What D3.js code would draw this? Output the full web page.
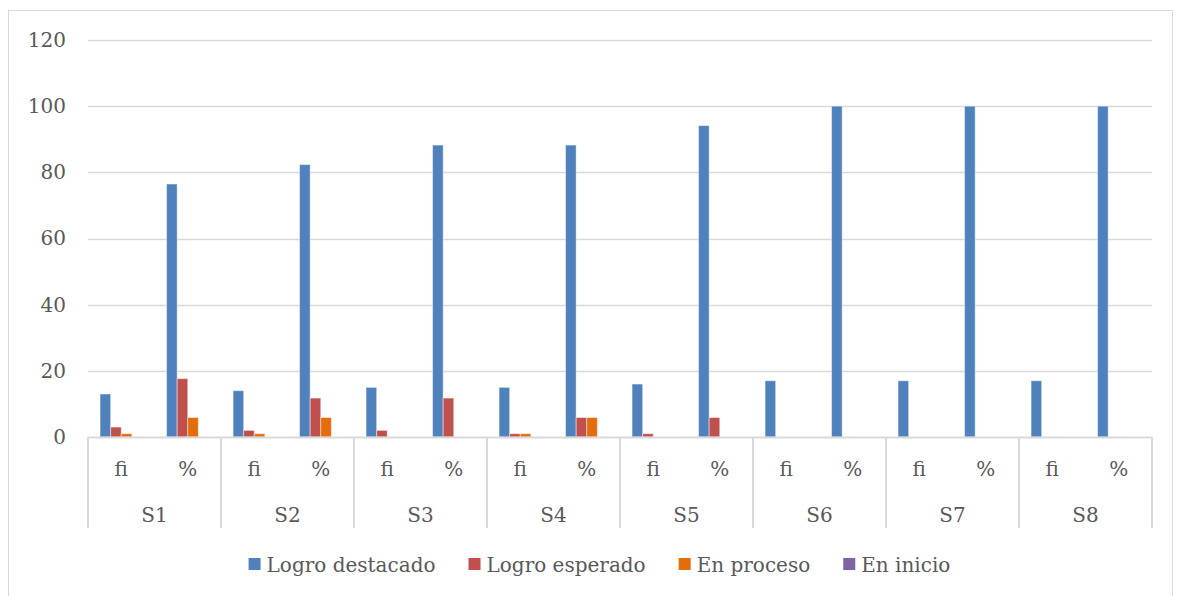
<!DOCTYPE html>
<html>
<head>
<meta charset="utf-8">
<script src="https://cdn.jsdelivr.net/npm/d3@7"></script>
<style>
  body { margin: 0; background: #fff; }
  text { font-family: "DejaVu Serif", "Liberation Serif", serif; fill: #595959; }
</style>
</head>
<body>
<div id="chart"></div>
<script>
// data
var groups = ["S1", "S2", "S3", "S4", "S5", "S6", "S7", "S8"];
var subLabels = ["fi", "%"];
var seriesNames = ["Logro destacado", "Logro esperado", "En proceso", "En inicio"];
var seriesColors = ["#4F81BD", "#C0504D", "#E46C0A", "#8064A2"];

var logroDestacado = [13, 76.47, 14, 82.35, 15, 88.24, 15, 88.24, 16, 94.12, 17, 100, 17, 100, 17, 100];
var logroEsperado  = [3, 17.65, 2, 11.76, 2, 11.76, 1, 5.88, 1, 5.88, 0, 0, 0, 0, 0, 0];
var enProceso      = [1, 5.88, 1, 5.88, 0, 0, 1, 5.88, 0, 0, 0, 0, 0, 0, 0, 0];
var enInicio       = [0, 0, 0, 0, 0, 0, 0, 0, 0, 0, 0, 0, 0, 0, 0, 0];
var yTicks = [0, 20, 40, 60, 80, 100, 120];

var allSeries = [logroDestacado, logroEsperado, enProceso, enInicio];

var svgWidth = 1177;
var svgHeight = 596;
var margin = { top: 40, right: 25, bottom: 159, left: 88 };
var plotWidth = svgWidth - margin.left - margin.right;
var plotHeight = svgHeight - margin.top - margin.bottom;

var svg = d3.select("#chart")
  .append("svg")
  .attr("width", svgWidth)
  .attr("height", svgHeight);

// chart border
svg.append("rect")
  .attr("x", 8.5).attr("y", 10.5)
  .attr("width", 1164).attr("height", 600)
  .attr("fill", "none")
  .attr("stroke", "#D9D9D9");

var plot = svg.append("g")
  .attr("transform", `translate(${margin.left}, ${margin.top})`);

// one slot per (group, sub label)
var slots = [];
groups.forEach(function(g) {
  subLabels.forEach(function(s) { slots.push(g + "|" + s); });
});

var xGroup = d3.scaleBand().domain(groups).range([0, plotWidth]);
var xSlot = d3.scaleBand().domain(slots).range([0, plotWidth]);
var xSeries = d3.scaleBand().domain(seriesNames).range([0, xSlot.bandwidth()])
  .paddingInner(0).paddingOuter(1.14);
var y = d3.scaleLinear().domain([0, 120]).range([plotHeight, 0]);

// gridlines
plot.append("g")
  .selectAll("line")
  .data(yTicks.filter(function(t) { return t > 0; }))
  .enter()
  .append("line")
  .attr("x1", 0).attr("x2", plotWidth)
  .attr("y1", d => Math.round(y(d)) + 0.5)
  .attr("y2", d => Math.round(y(d)) + 0.5)
  .attr("stroke", "#D9D9D9")
  .attr("stroke-width", 1.5);

// y axis labels
var leftAxis = d3.axisLeft(y).tickValues(yTicks).tickSize(0).tickPadding(22);
var yAxisG = plot.append("g").call(leftAxis);
yAxisG.select(".domain").remove();
yAxisG.selectAll("text")
  .style("font-family", "DejaVu Serif, serif")
  .style("font-size", "20px")
  .attr("fill", "#595959");

// bars
allSeries.forEach(function(values, si) {
  plot.append("g")
    .selectAll("rect")
    .data(values)
    .enter()
    .append("rect")
    .attr("x", (d, i) => xSlot(slots[i]) + xSeries(seriesNames[si]))
    .attr("y", d => y(d))
    .attr("width", xSeries.bandwidth())
    .attr("height", d => plotHeight - y(d))
    .attr("fill", seriesColors[si])
    .attr("stroke", "rgba(255,255,255,0.45)")
    .attr("stroke-width", 1);
});

// category axis line
plot.append("line")
  .attr("x1", 0).attr("x2", plotWidth)
  .attr("y1", plotHeight + 0.5).attr("y2", plotHeight + 0.5)
  .attr("stroke", "#D9D9D9")
  .attr("stroke-width", 2);

// group separators
var sepX = groups.map(g => xGroup(g)).concat([plotWidth]);
plot.append("g")
  .selectAll("line")
  .data(sepX)
  .enter()
  .append("line")
  .attr("x1", d => d).attr("x2", d => d)
  .attr("y1", plotHeight).attr("y2", plotHeight + 91)
  .attr("stroke", "#D9D9D9")
  .attr("stroke-width", 2);

// sub labels
plot.append("g")
  .selectAll("text")
  .data(slots)
  .enter()
  .append("text")
  .attr("x", d => xSlot(d) + xSlot.bandwidth() / 2)
  .attr("y", plotHeight + 39)
  .attr("text-anchor", "middle")
  .style("font-size", "20px")
  .text(d => d.split("|")[1]);

// group labels
plot.append("g")
  .selectAll("text")
  .data(groups)
  .enter()
  .append("text")
  .attr("x", d => xGroup(d) + xGroup.bandwidth() / 2)
  .attr("y", plotHeight + 85)
  .attr("text-anchor", "middle")
  .style("font-size", "20px")
  .text(d => d);

// legend
var legend = svg.append("g");
var items = legend.selectAll("g")
  .data(seriesNames)
  .enter()
  .append("g");
items.append("rect")
  .attr("width", 12).attr("height", 12)
  .attr("y", -14)
  .attr("fill", (d, i) => seriesColors[i]);
items.append("text")
  .attr("x", 18)
  .style("font-size", "20px")
  .text(d => d);
var xpos = 0;
items.each(function() {
  var g = d3.select(this);
  g.attr("transform", `translate(${xpos}, 572)`);
  xpos += 18 + g.select("text").node().getComputedTextLength() + 33;
});
legend.attr("transform", `translate(${(svgWidth - (xpos - 33)) / 2 + 11}, 0)`);
</script>
</body>
</html>
